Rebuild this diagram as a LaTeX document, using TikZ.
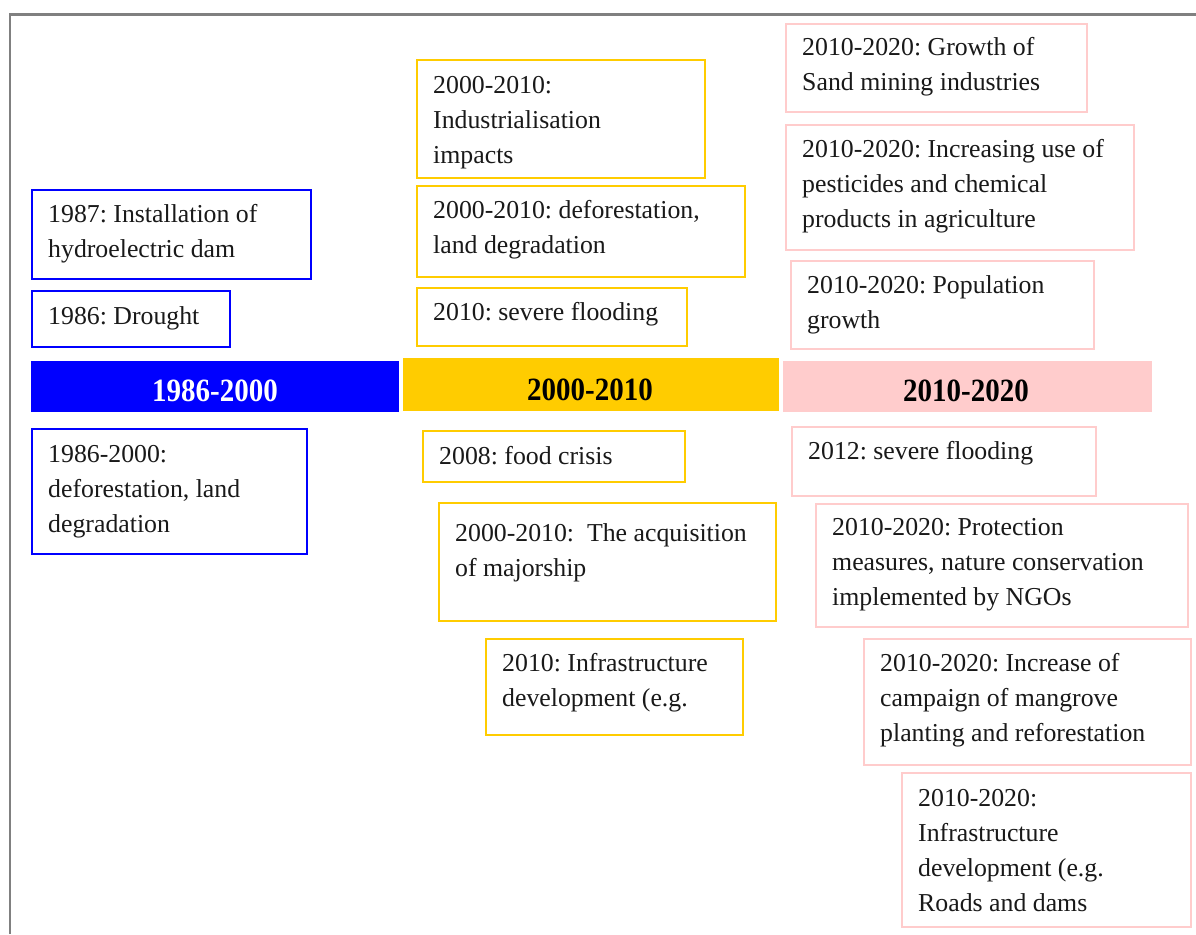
\documentclass[tikz,border=0pt]{standalone}
\usepackage{fontspec}
\setmainfont{Liberation Serif}
\frenchspacing
\definecolor{cblue}{RGB}{0,0,255}
\definecolor{cyellow}{RGB}{255,204,0}
\definecolor{cpink}{RGB}{255,204,204}
\definecolor{cframe}{RGB}{128,128,128}
\definecolor{ctext}{RGB}{25,25,25}
\tikzset{
  bluebox/.style={draw=cblue, line width=1.6pt, inner sep=0pt},
  yellowbox/.style={draw=cyellow, line width=1.6pt, inner sep=0pt},
  pinkbox/.style={draw=cpink, line width=1.6pt, inner sep=0pt},
  evtext/.style={inner sep=0pt, align=left, text=ctext, font=\frenchspacing\fontsize{25.8}{35}\selectfont},
  period/.style={inner sep=0pt, font=\bfseries\fontsize{29}{34}\selectfont},
}
\newcommand\tallnum[1]{\scalebox{1}[1.12]{#1}}
% #1 name, #2 style, #3 x1, #4 y1, #5 x2, #6 y2, #7 baseline offset, #8 text
\newcommand\evbox[8]{%
  \node[#2, minimum width={#5-#3}, minimum height={#6-#4}, anchor=north west] (#1) at (#3,#4) {};
  \node[evtext, anchor=north west] (#1-t) at ([xshift=17pt,yshift={-(#7-24.5)*1pt}]#1.north west) {#8};
}
\begin{document}
\begin{tikzpicture}[x=1pt,y=-1pt]
\useasboundingbox (0,0) rectangle (1196,934);
\fill[white] (0,0) rectangle (1196,934);
% frame
\draw[cframe, line width=2.3pt] (10.3,934) -- (10.3,14.5) -- (1196,14.5);

% period bars
\node[fill=cblue, minimum width=368pt, minimum height=51pt, inner sep=0pt, anchor=north west] (bar1) at (31,361) {};
\node[fill=cyellow, minimum width=376pt, minimum height=53pt, inner sep=0pt, anchor=north west] (bar2) at (403,358) {};
\node[fill=cpink, minimum width=369pt, minimum height=51pt, inner sep=0pt, anchor=north west] (bar3) at (783,361) {};
\node[period, text=white, anchor=base] (bar1-t) at (215,401.5) {\tallnum{1986-2000}};
\node[period, text=black, anchor=base] (bar2-t) at (590,400) {\tallnum{2000-2010}};
\node[period, text=black, anchor=base] (bar3-t) at (966,401.5) {\tallnum{2010-2020}};

% 1986-2000
\evbox{b1}{bluebox}{31}{189}{310}{278}{33}{\strut 1987: Installation of\\\strut hydroelectric dam}
\evbox{b2}{bluebox}{31}{290}{229}{346}{34}{\strut 1986: Drought}
\evbox{b3}{bluebox}{31}{428}{306}{553}{34}{\strut 1986-2000:\\\strut deforestation, land\\\strut degradation}

% 2000-2010
\evbox{y1}{yellowbox}{416}{59}{704}{177}{34}{\strut 2000-2010:\\\strut Industrialisation\\\strut impacts}
\evbox{y2}{yellowbox}{416}{185}{744}{276}{33}{\strut 2000-2010: deforestation,\\\strut land degradation}
\evbox{y3}{yellowbox}{416}{287}{686}{345}{33}{\strut 2010: severe flooding}
\evbox{y4}{yellowbox}{422}{430}{684}{481}{34}{\strut 2008: food crisis}
\evbox{y5}{yellowbox}{438}{502}{775}{620}{39}{\strut 2000-2010:\ \ The acquisition\\\strut of majorship}
\evbox{y6}{yellowbox}{485}{638}{742}{734}{33}{\strut 2010: Infrastructure\\\strut development (e.g.}

% 2010-2020
\evbox{p1}{pinkbox}{785}{23}{1086}{111}{32}{\strut 2010-2020: Growth of\\\strut Sand mining industries}
\evbox{p2}{pinkbox}{785}{124}{1133}{249}{33}{\strut 2010-2020: Increasing use of\\\strut pesticides and chemical\\\strut products in agriculture}
\evbox{p3}{pinkbox}{790}{260}{1093}{348}{33}{\strut 2010-2020: Population\\\strut growth}
\evbox{p4}{pinkbox}{791}{426}{1095}{495}{33}{\strut 2012: severe flooding}
\evbox{p5}{pinkbox}{815}{503}{1187}{626}{32}{\strut 2010-2020: Protection\\\strut measures, nature conservation\\\strut implemented by NGOs}
\evbox{p6}{pinkbox}{863}{638}{1190}{764}{33}{\strut 2010-2020: Increase of\\\strut campaign of mangrove\\\strut planting and reforestation}
\evbox{p7}{pinkbox}{901}{772}{1190}{926}{34}{\strut 2010-2020:\\\strut Infrastructure\\\strut development (e.g.\\\strut Roads and dams}
\end{tikzpicture}
\end{document}
